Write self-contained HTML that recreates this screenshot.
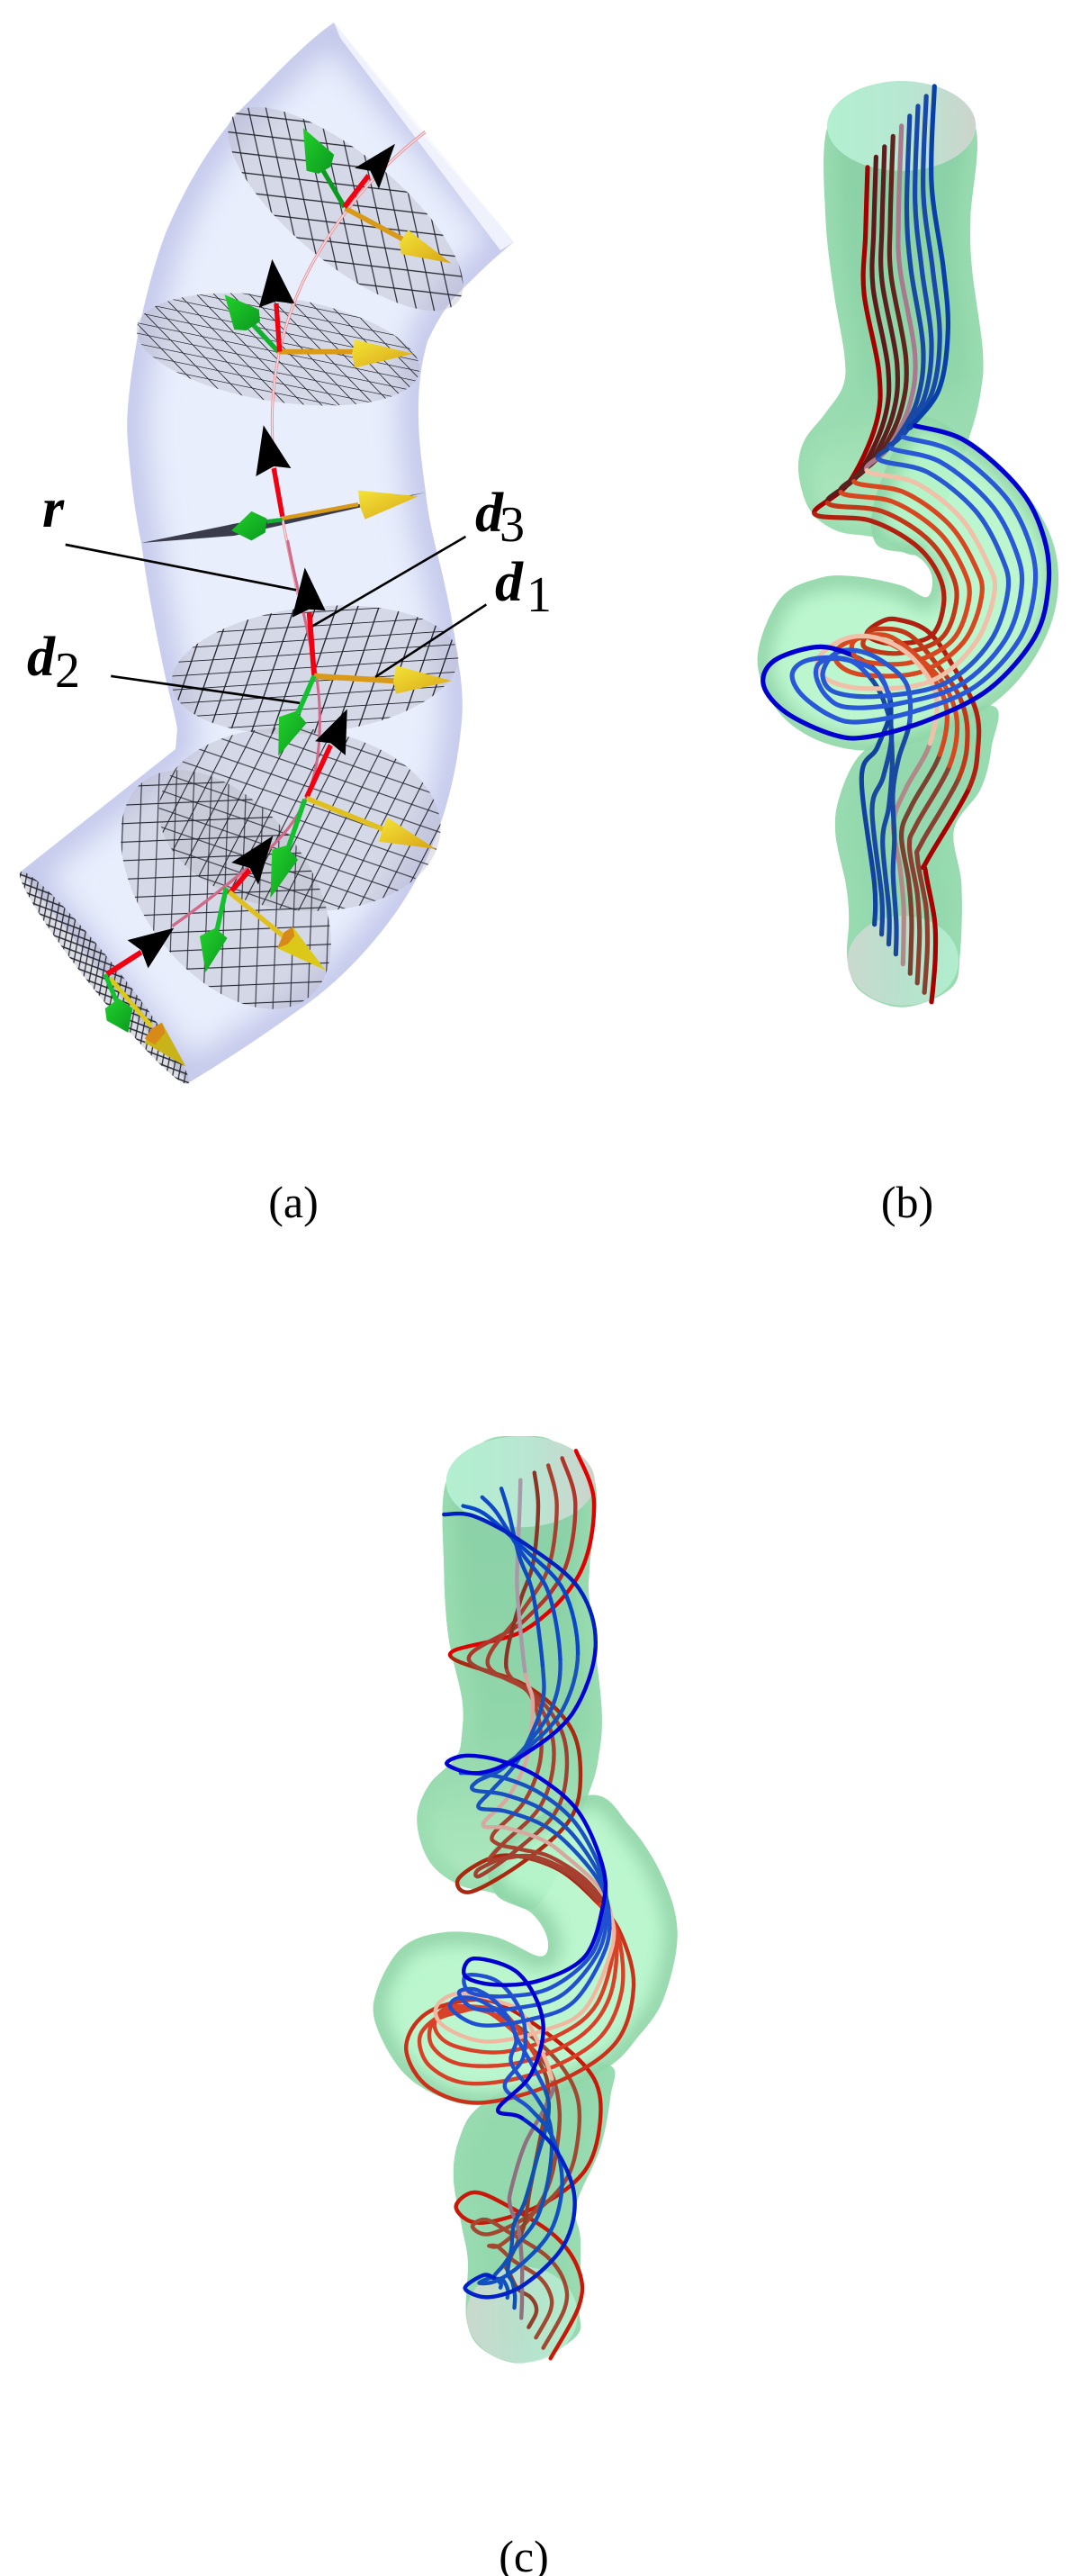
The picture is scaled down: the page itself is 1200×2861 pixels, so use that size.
<!DOCTYPE html>
<html><head><meta charset="utf-8"><style>
html,body{margin:0;padding:0;background:#fff}
svg{display:block}
text{font-family:"Liberation Serif",serif;fill:#000}
.bi{font-weight:bold;font-style:italic;font-size:62px}
.s{font-size:56px}
.c{font-size:50px;text-anchor:middle}
</style></head><body>
<svg id="s" xmlns="http://www.w3.org/2000/svg" width="1200" height="2861" viewBox="0 0 1200 2861">
<defs>
<filter id="b" x="-20%" y="-20%" width="140%" height="140%"><feGaussianBlur stdDeviation="16"/></filter>
<filter id="b2" x="-20%" y="-20%" width="140%" height="140%"><feGaussianBlur stdDeviation="9"/></filter>
<clipPath id="ta"><path id="tap" d="M371,25C335,50 300,90 268,121C230,165 205,210 184,259C165,310 152,370 145,424C142,450 140,470 142,491C145,530 150,570 157,603L161,631C167,670 173,700 180,734C186,765 194,790 197,810L195,832L23,968L209,1203C255,1175 300,1145 344,1113C375,1090 405,1060 432,1024C458,990 478,950 490,913C503,875 510,835 513,801C515,780 513,755 509,734C505,700 498,665 490,631C482,600 476,575 473,547C468,510 464,480 465,446C466,420 469,400 475,379C484,360 495,340 509,326C530,305 550,285 571,269Z"/></clipPath>
<linearGradient id="gy" x1="0" x2="1" y1="0" y2="1"><stop offset="0" stop-color="#f4e436"/><stop offset="1" stop-color="#d8a418"/></linearGradient>
<linearGradient id="gg" x1="0" x2="1" y1="0" y2="1"><stop offset="0" stop-color="#22d02a"/><stop offset="1" stop-color="#0a9a20"/></linearGradient>
<linearGradient id="cap" x1="0" x2="1"><stop offset="0" stop-color="#b2f0d0"/><stop offset=".55" stop-color="#b8e6d2"/><stop offset="1" stop-color="#ccd4cc"/></linearGradient>
<linearGradient id="cap2" x1="0" x2="1"><stop offset="0" stop-color="#cfd8d0"/><stop offset=".5" stop-color="#bce2d0"/><stop offset="1" stop-color="#b2f0d0"/></linearGradient>
<linearGradient id="gu" x1="0" x2="0" y1="0" y2="1"><stop offset="0" stop-color="#8acfa6"/><stop offset=".62" stop-color="#90d6aa"/><stop offset=".85" stop-color="#a8e4ba"/><stop offset="1" stop-color="#b0ecc2"/></linearGradient>
<pattern id="m1" width="20" height="20" patternUnits="userSpaceOnUse" patternTransform="matrix(.9 .7 .85 -.55 0 0)"><path d="M0 10H20M10 0V20" stroke="#23252f" stroke-width="1.2" fill="none"/></pattern>
<pattern id="m2" width="20" height="20" patternUnits="userSpaceOnUse" patternTransform="matrix(1.25 .06 .8 .6 0 0)"><path d="M0 10H20M10 0V20" stroke="#23252f" stroke-width="1.2" fill="none"/></pattern>
<pattern id="m4" width="20" height="20" patternUnits="userSpaceOnUse" patternTransform="matrix(1.2 .05 -.35 .75 0 0)"><path d="M0 10H20M10 0V20" stroke="#23252f" stroke-width="1.2" fill="none"/></pattern>
<pattern id="m5" width="20" height="20" patternUnits="userSpaceOnUse" patternTransform="matrix(.95 .22 -.35 .9 0 0)"><path d="M0 10H20M10 0V20" stroke="#23252f" stroke-width="1.1" fill="none"/></pattern>
<pattern id="m6" width="20" height="20" patternUnits="userSpaceOnUse" patternTransform="matrix(.8 .65 .55 -.8 0 0)"><path d="M0 10H20M10 0V20" stroke="#23252f" stroke-width="1.1" fill="none"/></pattern>
<pattern id="m7" width="20" height="20" patternUnits="userSpaceOnUse" patternTransform="matrix(.28 .32 .3 -.18 0 0)"><path d="M0 10H20M10 0V20" stroke="#23252f" stroke-width="3.5" fill="none"/></pattern>
</defs>
<rect width="1200" height="2861" fill="#fff"/>

<!-- Panel a tube -->
<path d="M371,25C335,50 300,90 268,121C230,165 205,210 184,259C165,310 152,370 145,424C142,450 140,470 142,491C145,530 150,570 157,603L161,631C167,670 173,700 180,734C186,765 194,790 197,810L195,832L23,968L209,1203C255,1175 300,1145 344,1113C375,1090 405,1060 432,1024C458,990 478,950 490,913C503,875 510,835 513,801C515,780 513,755 509,734C505,700 498,665 490,631C482,600 476,575 473,547C468,510 464,480 465,446C466,420 469,400 475,379C484,360 495,340 509,326C530,305 550,285 571,269Z" fill="#e8eefc"/>
<g clip-path="url(#ta)"><path d="M371,25C335,50 300,90 268,121C230,165 205,210 184,259C165,310 152,370 145,424C142,450 140,470 142,491C145,530 150,570 157,603L161,631C167,670 173,700 180,734C186,765 194,790 197,810L195,832L23,968L209,1203C255,1175 300,1145 344,1113C375,1090 405,1060 432,1024C458,990 478,950 490,913C503,875 510,835 513,801C515,780 513,755 509,734C505,700 498,665 490,631C482,600 476,575 473,547C468,510 464,480 465,446C466,420 469,400 475,379C484,360 495,340 509,326C530,305 550,285 571,269Z" fill="none" stroke="#c2c6ea" stroke-width="40" filter="url(#b)"/>
<path d="M371,25L571,269L556,278L378,42Z" fill="#eff1fc"/>
<path d="M371,25L571,269L470,150Z" fill="#f8f9fe"/></g>

<!-- discs -->
<g fill="#b9b9c8" fill-opacity=".42">
<ellipse cx="384" cy="232" rx="162" ry="60" transform="rotate(39.6 384 232)"/>
<ellipse cx="309" cy="388" rx="159" ry="58" transform="rotate(9 309 388)"/>
<ellipse cx="350" cy="744" rx="160" ry="70" transform="rotate(-6 350 744)"/>
<ellipse cx="333" cy="910" rx="157" ry="101" transform="rotate(6 333 910)"/>
<ellipse cx="251" cy="988" rx="151" ry="92" transform="rotate(53 251 988)"/>
</g>
<g>
<ellipse cx="384" cy="232" rx="162" ry="60" transform="rotate(39.6 384 232)" fill="url(#m1)"/>
<ellipse cx="309" cy="388" rx="159" ry="58" transform="rotate(9 309 388)" fill="url(#m2)"/>
<ellipse cx="350" cy="744" rx="160" ry="70" transform="rotate(-6 350 744)" fill="url(#m4)"/>
<ellipse cx="333" cy="910" rx="157" ry="101" transform="rotate(6 333 910)" fill="url(#m5)"/>
<ellipse cx="251" cy="988" rx="151" ry="92" transform="rotate(53 251 988)" fill="url(#m6)"/>
<ellipse cx="116" cy="1086" rx="150" ry="17" transform="rotate(51.6 116 1086)" fill="#b9b9c8" fill-opacity=".5"/>
<ellipse cx="116" cy="1086" rx="150" ry="17" transform="rotate(51.6 116 1086)" fill="url(#m7)"/>
</g>
<polygon points="157,603 264,581 314,575 473,547 314,583 260,595" fill="#3a3c4c"/>

<!-- crop1 overlay -->
<g transform="scale(.3827 .4464)">
<path d="M1235,328C1080,430 960,560 880,700C810,830 790,950 790,1050C790,1150 805,1230 820,1290C835,1360 850,1420 865,1480" fill="none" stroke="#e8939c" stroke-width="8"/>
<path d="M1235,328C1080,430 960,560 880,700C810,830 790,950 790,1050C790,1150 805,1230 820,1290C835,1360 850,1420 865,1480" fill="none" stroke="#fbe8ea" stroke-width="3"/>
<!-- disk1 -->
<path d="M1000,515L935,420" stroke="#0c9a20" stroke-width="13"/>
<polygon points="880,318 970,385 960,415 925,432 890,425" fill="url(#gg)"/>
<path d="M1002,518L1180,600" stroke="#d89a18" stroke-width="13"/>
<polygon points="1310,655 1185,572 1160,605 1165,632" fill="url(#gy)"/>
<path d="M1000,515L1070,437" stroke="#f00010" stroke-width="14"/>
<polygon points="1147,358 1030,418 1075,425 1100,470" fill="#000"/>
<!-- disk2 -->
<path d="M808,875L715,790" stroke="#12b030" stroke-width="13"/>
<polygon points="652,733 752,770 755,800 715,822 680,820" fill="url(#gg)"/>
<path d="M810,875L1030,875" stroke="#d89a18" stroke-width="13"/>
<polygon points="1200,880 1030,845 1022,880 1030,915" fill="url(#gy)"/>
<path d="M812,875L802,755" stroke="#f00010" stroke-width="14"/>
<polygon points="790,645 752,765 800,750 855,755" fill="#000"/>
<!-- disk3 -->
<path d="M820,1285L795,1165" stroke="#f00010" stroke-width="14"/>
<polygon points="765,1058 743,1185 795,1160 845,1165" fill="#000"/>
<path d="M775,1298L820,1293" stroke="#12b030" stroke-width="10"/>
<path d="M820,1290L1040,1255" stroke="#d89a18" stroke-width="10"/>
<polygon points="1215,1235 1040,1220 1045,1260 1060,1292" fill="url(#gy)"/>
<polygon points="672,1320 730,1272 775,1290 770,1325 730,1345" fill="url(#gg)"/>
<!-- r + d3 leaders -->
<path d="M190,1355L860,1468" stroke="#000" stroke-width="6" />
<path d="M1352,1335L905,1559" stroke="#000" stroke-width="6"/>
</g>

<g transform="translate(0 600) scale(.3827 .4464)">
<path d="M835,0C850,70 870,140 885,195C905,280 925,340 928,420C930,500 925,570 890,640C860,700 820,735 780,770C700,830 600,900 500,960" fill="none" stroke="#d06a88" stroke-width="8"/>
<!-- disk4 -->
<path d="M912,335L898,180" stroke="#f00010" stroke-width="15"/>
<polygon points="885,68 848,192 897,172 945,175" fill="#000"/>
<path d="M912,338L1145,350" stroke="#d89a18" stroke-width="14"/>
<polygon points="1312,350 1150,312 1142,350 1150,382" fill="url(#gy)"/>
<path d="M912,338L865,430" stroke="#12c030" stroke-width="14"/>
<polygon points="808,537 810,440 860,425 890,455" fill="url(#gg)"/>
<!-- d1/d2 leaders -->
<path d="M1412,160L1090,340" stroke="#000" stroke-width="6"/>
<path d="M322,338L870,405" stroke="#000" stroke-width="6"/>
<!-- disk5 -->
<path d="M890,640L960,510" stroke="#f00010" stroke-width="14"/>
<polygon points="1008,420 915,500 960,505 1003,535" fill="#000"/>
<path d="M890,642L1120,722" stroke="#e0c020" stroke-width="13"/>
<polygon points="1265,768 1125,690 1110,720 1100,750" fill="url(#gy)"/>
<path d="M885,645L835,770" stroke="#12c030" stroke-width="14"/>
<polygon points="785,890 790,770 830,760 865,795" fill="url(#gg)"/>
<!-- disk6 -->
<path d="M665,880L725,820" stroke="#f00010" stroke-width="14"/>
<polygon points="793,735 672,802 725,815 750,857" fill="#000"/>
<path d="M665,875L830,990" stroke="#e0c020" stroke-width="13"/>
<polygon points="945,1070 850,962 825,980 805,1015" fill="#dcc818"/>
<polygon points="850,962 825,975 805,1015 835,1005 855,985" fill="#d88a18"/>
<path d="M657,865L630,970" stroke="#12c030" stroke-width="14"/>
<polygon points="597,1075 580,985 625,965 660,990" fill="url(#gg)"/>
<!-- disk7 -->
<path d="M310,1080L410,1025" stroke="#f00010" stroke-width="14"/>
<polygon points="505,965 370,995 410,1020 430,1065" fill="#000"/>
<path d="M320,1090L440,1210" stroke="#dcc818" stroke-width="12"/>
<polygon points="540,1310 470,1200 440,1220 420,1250" fill="#c8b418"/>
<polygon points="470,1200 440,1215 420,1240 450,1255 480,1225" fill="#d88a18"/>
<path d="M305,1080L340,1150" stroke="#12c030" stroke-width="13"/>
<polygon points="305,1165 345,1140 385,1165 372,1225 310,1195" fill="url(#gg)"/>
</g>

<text class="bi" x="47" y="585">r</text>
<text class="bi" x="528" y="590">d</text><text class="s" x="555" y="601">3</text>
<text class="bi" x="550" y="667">d</text><text class="s" x="585" y="679">1</text>
<text class="bi" x="30" y="750">d</text><text class="s" x="61" y="763">2</text>
<text class="c" x="326" y="1352">(a)</text>
<text class="c" x="1008" y="1352">(b)</text>
<text class="c" x="582" y="2856">(c)</text>
<g id="dyn"></g>
</svg>
<script>
(function(){
var NS="http://www.w3.org/2000/svg",root=document.getElementById('dyn'),defs=document.querySelector('defs'),uid=0;
function el(n,a,p){var e=document.createElementNS(NS,n);for(var k in a)e.setAttribute(k,a[k]);(p||root).appendChild(e);return e;}
function mb(x,y,f){return [800+x/3,(f?600:50)+y*.3827];}
function mc(x,y,f){return [350+x/3,f?2100+y*.4853:1550+y*.3827];}
function P(m,A,B){var o=[],i;for(i=0;i<A.length;i+=2)o.push(m(A[i],A[i+1],0));if(B)for(i=0;i<B.length;i+=2)o.push(m(B[i],B[i+1],1));return o;}
function seg(p,i,closed){var n=p.length;function g(j){return closed?p[(j+n)%n]:p[Math.max(0,Math.min(n-1,j))];}
 var a=g(i-1),b=g(i),c=g(i+1),d=g(i+2);
 return 'C'+(b[0]+(c[0]-a[0])/6).toFixed(1)+','+(b[1]+(c[1]-a[1])/6).toFixed(1)+' '+(c[0]-(d[0]-b[0])/6).toFixed(1)+','+(c[1]-(d[1]-b[1])/6).toFixed(1)+' '+c[0].toFixed(1)+','+c[1].toFixed(1);}
function closedPath(p){var s='M'+p[0][0].toFixed(1)+','+p[0][1].toFixed(1);for(var i=0;i<p.length;i++)s+=seg(p,i,true);return s+'Z';}
function shape(p,fill,edge,w,op){var d=closedPath(p),id='cp'+(++uid),c=el('clipPath',{id:id},defs);el('path',{d:d},c);
 var g=el('g',{opacity:op||1});el('path',{d:d,fill:fill},g);
 el('path',{d:d,fill:'none',stroke:edge,'stroke-width':w,filter:'url(#b2)','clip-path':'url(#'+id+')'},g);}
function ell(m,cx,cy,rx,ry,f,fill,op){var A=[];for(var i=0;i<24;i++){var t=i/24*2*Math.PI;A.push(cx+rx*Math.cos(t),cy+ry*Math.sin(t));}
 var p=f?P(m,[],A):P(m,A);el('path',{d:closedPath(p),fill:fill,'fill-opacity':op||1});}
function lerp(a,b,t){return [a[0]+(b[0]-a[0])*t,a[1]+(b[1]-a[1])*t];}
function fam(R,M,B,segs,w){for(var s=0;s<segs.length;s++){var S=segs[s];for(var k=0;k<9;k++){
  var p=[];for(var i=0;i<R.length;i++)p.push(k<=4?lerp(R[i],M[i],k/4):lerp(M[i],B[i],(k-4)/4));
  var d='M'+p[S[0]][0].toFixed(1)+','+p[S[0]][1].toFixed(1);for(var j=S[0];j<S[1];j++)d+=seg(p,j,false);
  el('path',{d:d,fill:'none',stroke:S[2][k],'stroke-width':w,'stroke-linecap':'round','stroke-linejoin':'round'});}}}

/* ---------- panel b ---------- */
shape(P(mb,[],[470,620,400,740,385,850,420,1000,430,1100,425,1220,470,1310,610,1355,770,1300,800,1200,805,1000,780,840,870,720,905,600,905,480,600,560]),'#94d8ae','#9adcb0',26);
ell(mb,610,1220,185,130,1,'url(#cap2)',.9);
shape(P(mb,[358,240,352,500,380,720,415,900,410,990,350,1070,280,1150,262,1240,300,1350,390,1410,520,1430,650,1480,720,1400,830,1140,870,1000,875,880,840,650,835,500,852,240,720,130,605,105,480,130]),'url(#gu)','#9adcb0',26);
ell(mb,605,235,248,130,0,'url(#cap)');
shape(P(mb,[650,1085,820,1140,980,1260,1090,1400],[1128,100,1100,250,1000,400,850,510,650,590,470,610,300,570,180,480,125,340,200,170,330,110,450,105,600,130,690,165,705,100,650,43,520,10,520,-130]),'#b6f6ca','#8ed4a6',30,.92);
var Rb=P(mb,[492,355,485,550,480,720,530,950,520,1100,430,1270,315,1360,500,1380,650,1450,730,1540],[745,190,700,280,570,300,490,275,530,240,590,230,700,270,800,400,855,500,860,600,830,720,690,930,685,960,715,1100,718,1200,712,1280,705,1340]);
var Mb=P(mb,[605,235,595,500,600,650,650,900,630,1050,560,1170,490,1235,650,1270,800,1370,890,1500],[915,150,850,300,700,410,480,430,350,400,330,340,420,285,530,285,640,340,720,450,700,590,620,720,578,820,600,950,612,1060,612,1150,610,1230]);
var Bb=P(mb,[715,120,705,400,745,650,760,830,730,1000,640,1105,650,1105,820,1150,1000,1290,1080,1430],[1095,130,1050,280,900,430,700,520,500,570,380,565,220,500,145,420,180,350,320,310,430,330,520,380,570,480,525,600,472,690,515,1000,515,1115]);
fam(Rb,Mb,Bb,[
 [20,26,["#a80000","#8a4030","#8a4030","#7a4030","#b08a88","#1848a0","#1848a0","#1848a0","#1040a0"]],
 [0,6,["#a50000","#5e1a1a","#5a2020","#60241e","#a87a90","#1848a0","#1848a8","#1848a8","#0840a8"]],
 [6,20,["#b02010","#c03818","#d84820","#d84820","#f0c0a8","#2858d0","#2858d8","#2858d8","#0000d0"]]
],5.2);

/* ---------- panel c ---------- */
shape(P(mc,[],[555,490,480,570,462,660,490,770,510,850,505,980,560,1050,700,1080,870,1020,880,950,885,800,870,720,950,590,985,470,985,400,800,400]),'#94d8ae','#9adcb0',26);
ell(mc,690,970,185,110,1,'url(#cap2)',.9);
shape(P(mc,[437,250,430,500,445,700,490,880,490,980,470,1050,380,1130,340,1230,380,1350,480,1420,600,1445,720,1490,800,1400,910,1160,945,1050,955,900,915,600,915,500,933,250,800,135,685,118,560,135]),'url(#gu)','#9adcb0',26);
ell(mc,685,250,248,132,0,'url(#cap)');
shape(P(mc,[910,1160,1050,1250,1160,1400],[1208,100,1160,250,1070,340,985,400,800,470,600,490,450,480,300,420,205,310,205,230,290,130,430,95,600,105,750,150,775,110,720,50,600,5,600,-100]),'#b6f6ca','#8ed4a6',30,.92);
var Rc=P(mc,[870,160,930,310,880,520,700,680,450,752,700,840,850,960,885,1100,850,1230,700,1350,520,1440,480,1400,620,1335,800,1370,940,1470],[1020,100,1062,220,1000,350,800,440,550,485,380,450,305,370,340,300,440,260,600,255,800,340,930,430,950,530,900,640,750,720,550,760,470,725,530,690,640,720,800,790,880,870,880,950,785,1070]);
var Mc=P(mc,[685,245,682,330,675,480,675,580,700,800,725,880,720,980,700,1070,640,1170,560,1245,640,1255,760,1290,840,1340,940,1420,985,1500],[990,130,900,270,760,320,570,345,430,310,405,265,480,235,620,255,700,290,790,430,770,490,700,580,655,680,650,720,680,780,690,860,690,900,690,940,688,975,688,975,688,975,688,975,688,975]);
var Bc=P(mc,[430,345,530,350,700,430,880,560,935,730,860,920,700,1040,550,1095,440,1070,500,1045,620,1060,750,1110,880,1210,960,1370,960,1480],[900,150,750,205,600,215,500,195,530,155,680,190,760,300,720,420,610,500,690,520,800,590,865,700,830,810,700,900,580,930,500,910,560,880,595,885,595,885,595,885,595,885,595,885,595,885]);
fam(Rc,Mc,Bc,[
 [24,37,["#c81808","#a04830","#a04830","#904028","#907080","#1050b0","#1050b8","#1050c0","#0020c8"]],
 [4,14,["#a82810","#a04030","#a84030","#a84030","#d8a8a0","#1850c0","#1850c0","#1850c0","#0000d8"]],
 [14,24,["#cc3018","#d84028","#d84028","#d84028","#f0b8a0","#2050d0","#2050d0","#2050d0","#0000d0"]],
 [0,4,["#e00000","#b0342a","#a84030","#8a3428","#a898a8","#1048c0","#1048c8","#0848c8","#0020c0"]]
],4.4);
})();
</script>
</body></html>
